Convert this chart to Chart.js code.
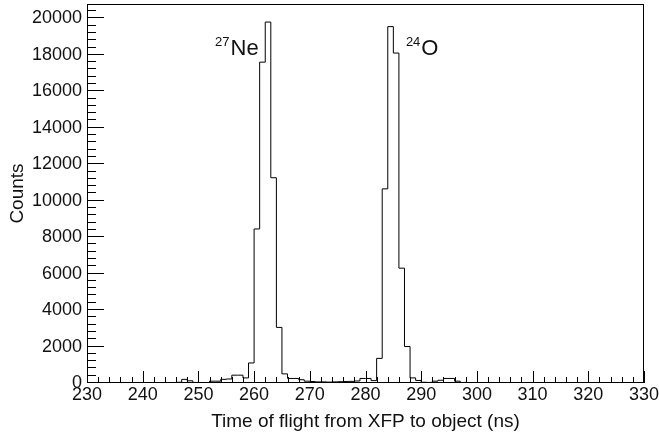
<!DOCTYPE html>
<html>
<head>
<meta charset="utf-8">
<title>Time of flight XFP - object</title>
<script src="https://cdn.jsdelivr.net/npm/chart.js@4.4.1/dist/chart.umd.min.js"></script>
<style>
  html, body { margin: 0; padding: 0; background: #fff; }
</style>
</head>
<body>
<canvas id="tof" width="659" height="436"></canvas>
<script>
// histogram: 1 ns bins from 230 to 330 ns
const binStart = 230
const binEnd = 330

// counts per bin, bin i covers [230 + i, 231 + i)
const counts = [
    0,     0,     0,     0,     0,     0,     0,     0,     0,     0,   // 230
   10,    10,    10,    10,    20,    20,    40,   200,   120,    30,   // 240
   20,    20,   100,   100,   200,   220,   430,   430,   280,  1100,   // 250
 8450, 17600, 19800, 11260,  3050,   500,   250,   250,   180,   100,   // 260
   80,    60,    60,    50,    60,    70,    80,    90,   110,   250,   // 270
  250,   130,  1350, 10650, 19550, 18100,  6300,  2000,   280,   140,   // 280
   40,    30,   100,   150,   250,   250,   100,    30,    10,    10,   // 290
    0,     0,     0,     0,     0,     0,     0,     0,     0,     0,   // 300
    0,     0,     0,     0,     0,     0,     0,     0,     0,     0,   // 310
    0,     0,     0,     0,     0,     0,     0,     0,     0,     0    // 320
]

const xTicks = [230, 240, 250, 260, 270, 280, 290, 300, 310, 320, 330]
const yTicks = [0, 2000, 4000, 6000, 8000, 10000, 12000, 14000, 16000, 18000, 20000]

const peakMasses = ['27', '24']
const peakNames = ['Ne', 'O']

// ROOT-like y range: 5% above the highest bin
const yMax = Math.max(...counts) * 1.05

const font = "'Liberation Sans', Arial, Helvetica, sans-serif"

// step outline: one point on every left bin edge, plus the closing edge
const points = [{ x: binStart, y: 0 }]
counts.forEach((c, i) => points.push({ x: binStart + i, y: c }))
points.push({ x: binEnd, y: counts[counts.length - 1] })

// frame + ticks drawn on the inside, like a ROOT pad
const frameTicks = {
    id: 'frameTicks',
    afterDatasetsDraw(chart) {
        const { ctx, chartArea: a, scales: { x, y } } = chart
        ctx.save()
        ctx.strokeStyle = '#000'
        ctx.lineWidth = 1
        ctx.beginPath()
        for (let v = binStart; v <= binEnd; v += 2) {
            const px = Math.round(x.getPixelForValue(v)) + 0.5
            const len = xTicks.includes(v) ? 12 : 6
            ctx.moveTo(px, a.bottom)
            ctx.lineTo(px, a.bottom - len)
        }
        for (let v = 0; v <= yMax; v += 400) {
            const py = Math.round(y.getPixelForValue(v)) - 0.5
            const len = yTicks.includes(v) ? 17 : 9
            ctx.moveTo(a.left, py)
            ctx.lineTo(a.left + len, py)
        }
        ctx.stroke()
        ctx.strokeRect(a.left + 0.5, a.top + 0.5, a.right - a.left - 1, a.bottom - a.top - 1)
        ctx.restore()
    }
}

// isotope names over the two peaks
const peakNamesPlugin = {
    id: 'peakNames',
    afterDraw(chart) {
        const { ctx, scales: { x, y } } = chart
        const base = y.getPixelForValue(18000)
        ctx.save()
        ctx.fillStyle = '#111'
        ctx.textBaseline = 'alphabetic'
        ctx.textAlign = 'left'

        // 27Ne, right aligned just left of the first peak
        const right = x.getPixelForValue(261) - 1
        ctx.font = '22px ' + font
        const neW = ctx.measureText(peakNames[0]).width
        ctx.fillText(peakNames[0], right - neW, base)
        ctx.font = '13px ' + font
        const m0 = ctx.measureText(peakMasses[0]).width
        ctx.fillText(peakMasses[0], right - neW - m0 - 1, base - 9)

        // 24O, to the right of the second peak
        const left = x.getPixelForValue(287.25)
        ctx.font = '13px ' + font
        ctx.fillText(peakMasses[1], left, base - 9)
        const m1 = ctx.measureText(peakMasses[1]).width
        ctx.font = '22px ' + font
        ctx.fillText(peakNames[1], left + m1 + 1, base)
        ctx.restore()
    }
}

const ctx = document.getElementById('tof').getContext('2d')

new Chart(ctx, {
    type: 'line',
    data: {
        datasets: [{
            data: points,
            stepped: 'before',
            borderColor: '#000',
            borderWidth: 1,
            pointRadius: 0,
            fill: false,
            tension: 0
        }]
    },
    options: {
        responsive: false,
        animation: false,
        devicePixelRatio: 1,
        layout: { padding: { top: 4, right: 15, left: 0, bottom: 0 } },
        scales: {
            x: {
                type: 'linear',
                min: binStart,
                max: binEnd,
                grid: { display: false, drawTicks: false },
                border: { display: false },
                afterFit: s => {
                    s.height = 53
                    s.paddingLeft = 0
                    s.paddingRight = 0
                },
                afterBuildTicks: s => { s.ticks = xTicks.map(v => ({ value: v })) },
                ticks: {
                    padding: 1,
                    maxRotation: 0,
                    autoSkip: false,
                    color: '#111',
                    font: { family: font, size: 18 },
                    callback: v => String(v)
                },
                title: {
                    display: true,
                    text: 'Time of flight from XFP to object (ns)',
                    color: '#111',
                    font: { family: font, size: 19 },
                    padding: { top: 0, bottom: 3 }
                }
            },
            y: {
                type: 'linear',
                min: 0,
                max: yMax,
                grid: { display: false, drawTicks: false },
                border: { display: false },
                afterFit: s => {
                    s.width = 87
                    s.paddingTop = 0
                    s.paddingBottom = 0
                },
                afterBuildTicks: s => { s.ticks = yTicks.map(v => ({ value: v })) },
                ticks: {
                    padding: 5,
                    color: '#111',
                    font: { family: font, size: 18 },
                    callback: v => String(v)
                },
                title: {
                    display: true,
                    text: 'Counts',
                    color: '#111',
                    font: { family: font, size: 19 },
                    padding: { top: 6, bottom: 0 }
                }
            }
        },
        plugins: {
            legend: { display: false },
            tooltip: { enabled: false }
        }
    },
    plugins: [frameTicks, peakNamesPlugin]
})
</script>
</body>
</html>
